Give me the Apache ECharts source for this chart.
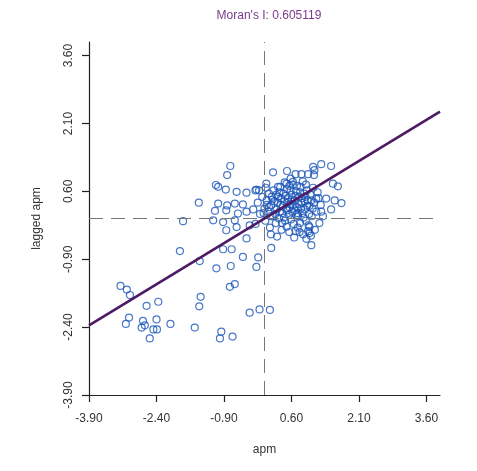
<!DOCTYPE html>
<html>
<head>
<meta charset="utf-8">
<script src="https://cdn.jsdelivr.net/npm/echarts@6/dist/echarts.min.js"></script>
<style>html,body{margin:0;padding:0;background:#fff;}#c{width:477px;height:471px;}</style>
</head>
<body>
<div id="c"></div>
<script>
const titleText = "Moran's I: 0.605119";
const moranI = 0.605119;
const xName = 'apm';
const yName = 'lagged apm';
const tickValues = [-3.9, -2.4, -0.9, 0.6, 2.1, 3.6];
const axisMin = -3.9;
const axisMax = 3.9;

// standardized apm values
const apm = [
  -3.20,-3.06,-2.99,-2.62,-2.36,-3.01,-3.08,-2.70,-2.73,-2.66,
  -2.40,-2.47,-2.39,-2.55,-2.09,-1.55,-1.42,-1.45,-0.77,-0.66,
  -0.96,-0.99,-0.71,-0.33,-0.11,0.12,
  -0.76,-0.83,-1.08,-1.03,-0.86,-0.62,-0.40,-0.20,-1.46,-1.03,
  -0.83,-0.66,-0.48,-1.10,-0.85,-0.59,-0.40,-1.81,-1.14,-0.92,
  -0.66,-0.85,-0.62,-0.33,-1.88,-0.40,-0.92,-0.73,-0.48,-0.14,
  0.15,-1.44,-1.07,-0.75,-0.18,1.04,1.00,1.00,
  0.19,0.50,0.69,0.82,0.97,1.10,1.11,1.26,1.48,1.08,
  0.04,0.30,0.49,0.63,1.52,1.63,1.15,1.37,1.56,1.71,
  1.26,1.48,-0.18,
  -0.15,-0.10,-0.05,0.00,0.02,0.05,0.08,0.10,0.12,0.15,
  0.18,0.20,0.22,0.25,0.27,0.30,0.32,0.35,0.36,0.38,
  0.40,0.42,0.44,0.46,0.48,0.50,0.52,0.54,0.55,0.57,
  0.60,0.62,0.63,0.65,0.67,0.70,0.72,0.74,0.75,0.77,
  0.80,0.82,0.84,0.86,0.88,0.90,0.92,0.94,0.96,0.98,
  1.00,1.02,1.05,1.08,1.10,1.12,1.15,1.18,1.20,1.22,
  -0.25,-0.20,-0.12,0.03,0.14,0.28,0.45,0.58,0.66,0.78,
  0.85,0.93,1.03,1.25,1.30,0.16,0.34,0.56,0.73,0.89,
  0.05,0.10,0.18,0.24,0.29,0.33,0.37,0.41,0.43,0.47,
  0.51,0.53,0.58,0.61,0.64,0.68,0.69,0.71,0.76,0.79,
  0.81,0.83,0.87,0.91,0.95,0.99,1.04,1.07,0.39,0.49,
  0.59,0.69,0.79,0.97,0.26,0.13,-0.02,0.55,0.72,0.92
];
// spatially lagged apm values
const laggedApm = [
  -1.49,-1.57,-1.69,-1.93,-1.84,-2.19,-2.33,-2.26,-2.41,-2.36,
  -2.23,-2.45,-2.45,-2.65,-2.33,-2.41,-1.73,-1.94,-1.51,-1.45,
  -2.50,-2.65,-2.61,-2.08,-2.01,-2.02,
  1.16,0.96,0.74,0.70,0.64,0.59,0.57,0.62,0.35,0.33,
  0.29,0.33,0.31,0.17,0.18,0.11,0.15,-0.06,-0.04,-0.08,
  -0.04,-0.26,-0.19,-0.15,-0.72,-0.44,-0.68,-0.68,-0.85,-0.86,
  -0.65,-0.94,-1.10,-1.05,-1.07,-0.59,-0.32,-0.19,
  1.02,1.05,0.98,0.98,0.98,0.96,1.07,1.20,1.16,1.14,
  0.77,0.70,0.77,0.81,0.77,0.71,0.44,0.44,0.40,0.34,
  0.15,0.20,0.64,
  0.35,0.10,0.48,0.22,-0.05,0.40,0.15,0.55,-0.20,0.30,
  0.05,0.62,0.38,-0.10,0.20,0.48,0.00,0.70,0.30,-0.25,
  0.12,0.55,0.38,-0.05,0.22,0.65,0.45,0.08,-0.30,0.32,
  0.52,0.15,0.75,-0.12,0.40,0.60,0.25,-0.20,0.05,0.48,
  0.70,0.35,0.12,-0.35,0.55,0.20,-0.05,0.62,0.40,-0.15,
  0.28,0.52,0.05,0.68,0.35,-0.25,0.15,0.58,0.45,-0.10,
  0.20,-0.12,0.62,0.68,-0.35,-0.40,0.80,0.88,-0.42,-0.30,
  0.82,-0.45,-0.38,0.30,0.05,0.48,0.15,0.25,0.12,0.38,
  0.30,0.25,0.42,0.10,0.35,0.58,0.45,0.28,0.02,0.50,
  0.18,0.36,0.62,0.42,0.30,0.18,0.50,0.08,0.32,0.58,
  0.22,0.45,0.02,0.48,0.28,0.10,0.40,0.22,-0.10,-0.18,
  -0.02,-0.28,-0.10,-0.28,0.52,0.05,0.12,0.72,0.72,0.75
];

const points = apm.map((v, i) => [v, laggedApm[i]]);
const fitLine = [[axisMin, moranI * axisMin], [axisMax, moranI * axisMax]];

const font = 'Liberation Sans, Arial, sans-serif';
const chart = echarts.init(document.getElementById('c'), null, {renderer: 'canvas'});

function axisCommon() {
  return {
    type: 'value',
    min: axisMin,
    max: axisMax,
    interval: 1.5,
    splitLine: {show: false},
    axisLine: {show: true, onZero: false, lineStyle: {color: '#222', width: 1.2}},
    axisTick: {show: true, inside: false, length: 7, customValues: tickValues, lineStyle: {color: '#222', width: 1.2}},
    nameLocation: 'middle',
    nameTextStyle: {fontFamily: font, fontSize: 12, color: '#333'}
  };
}

const xAxis = Object.assign(axisCommon(), {
  name: xName,
  nameGap: 49,
  axisLabel: {customValues: tickValues, margin: 18, fontFamily: font, fontSize: 12, color: '#333',
    formatter: v => v.toFixed(2)}
});
const yAxis = Object.assign(axisCommon(), {
  name: yName,
  nameGap: 46,
  axisLabel: {customValues: tickValues, rotate: 90, margin: 14, fontFamily: font, fontSize: 12, color: '#333',
    formatter: v => v.toFixed(2)}
});

chart.setOption({
  animation: false,
  backgroundColor: '#fff',
  title: {
    text: titleText,
    left: 264,
    textAlign: 'center',
    top: 5,
    textStyle: {fontFamily: font, fontSize: 12, fontWeight: 'normal', color: '#7a3a8c'}
  },
  grid: {left: 89, right: 37, top: 42, bottom: 76, containLabel: false},
  xAxis: xAxis,
  yAxis: yAxis,
  series: [
    {
      type: 'scatter',
      data: points,
      symbol: 'circle',
      symbolSize: 7,
      itemStyle: {color: 'rgba(0,0,0,0)', borderColor: '#1a55b8', borderWidth: 1.2},
      z: 3,
      markLine: {
        silent: true,
        symbol: 'none',
        label: {show: false},
        lineStyle: {color: '#777', type: [14, 8], width: 1},
        data: [{xAxis: 0}, {yAxis: 0}],
        animation: false
      }
    },
    {
      type: 'line',
      data: fitLine,
      symbol: 'none',
      lineStyle: {color: '#4e1a63', width: 2.6},
      z: 5
    }
  ]
});
</script>
</body>
</html>
